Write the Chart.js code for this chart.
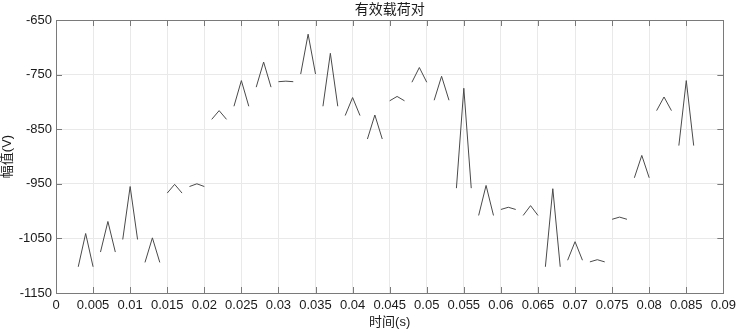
<!DOCTYPE html>
<html>
<head>
<meta charset="utf-8">
<script src="https://cdn.jsdelivr.net/npm/chart.js@4/dist/chart.umd.min.js"></script>
<style>
    html, body { margin: 0; padding: 0; background: #fff; }
    #wrap { width: 741px; height: 332px; }
</style>
</head>
<body>
<div id="wrap"><canvas id="payload"></canvas></div>
<script>
// Vaqt (s) - har uchlik alohida chiziq bo'lagi
const times = [
    0.003, 0.004, 0.005,  0.006, 0.007, 0.008,  0.009, 0.010, 0.011,  0.012, 0.013, 0.014,
    0.015, 0.016, 0.017,  0.018, 0.019, 0.020,  0.021, 0.022, 0.023,  0.024, 0.025, 0.026,
    0.027, 0.028, 0.029,  0.030, 0.031, 0.032,  0.033, 0.034, 0.035,  0.036, 0.037, 0.038,
    0.039, 0.040, 0.041,  0.042, 0.043, 0.044,  0.045, 0.046, 0.047,  0.048, 0.049, 0.050,
    0.051, 0.052, 0.053,  0.054, 0.055, 0.056,  0.057, 0.058, 0.059,  0.060, 0.061, 0.062,
    0.063, 0.064, 0.065,  0.066, 0.067, 0.068,  0.069, 0.070, 0.071,  0.072, 0.073, 0.074,
    0.075, 0.076, 0.077,  0.078, 0.079, 0.080,  0.081, 0.082, 0.083,  0.084, 0.085, 0.086
];

// Amplituda (V)
const amplitude = [
    -1102, -1041, -1102,  -1075, -1019, -1075,  -1052, -955, -1052,  -1094, -1049, -1094,
    -967, -951, -967,     -955, -950, -955,     -832, -816, -832,    -808, -761, -808,
    -773, -727, -773,     -763, -762, -763,     -749, -676, -749,    -808, -711, -808,
    -825, -792, -825,     -868, -824, -868,     -798, -790, -798,    -764, -737, -764,
    -797, -753, -797,     -958, -775, -958,     -1008, -953, -1008,  -997, -993, -997,
    -1008, -990, -1008,   -1102, -959, -1102,   -1090, -1056, -1090, -1093, -1089, -1093,
    -1015, -1011, -1015,  -939, -898, -939,     -816, -791, -816,    -880, -761, -880
];

// O'q belgilari
const xTicks = [0, 0.005, 0.01, 0.015, 0.02, 0.025, 0.03, 0.035, 0.04, 0.045,
                0.05, 0.055, 0.06, 0.065, 0.07, 0.075, 0.08, 0.085, 0.09];
const yTicks = [-1150, -1050, -950, -850, -750, -650];
const chartTitle = '有效载荷对';

const FONT = '"Liberation Sans", Arial, "Noto Sans CJK SC", sans-serif';
const AXIS_COLOR = '#7a7a7a';
const GRID_COLOR = '#e9e9e9';
const TEXT_COLOR = '#1a1a1a';
const LINE_COLOR = '#4a4a4a';

// MATLAB uslubidagi ramka, ichki belgilar va sarlavha
const boxPlugin = {
    id: 'matlabBox',
    afterDraw(chart) {
        const { ctx, chartArea: a, scales } = chart;
        const len = 6;
        ctx.save();
        ctx.strokeStyle = AXIS_COLOR;
        ctx.lineWidth = 1;
        ctx.beginPath();
        scales.x.ticks.forEach(t => {
            const px = Math.round(scales.x.getPixelForValue(t.value)) + 0.5;
            ctx.moveTo(px, a.bottom); ctx.lineTo(px, a.bottom - len);
            ctx.moveTo(px, a.top); ctx.lineTo(px, a.top + len);
        });
        scales.y.ticks.forEach(t => {
            const py = Math.round(scales.y.getPixelForValue(t.value)) + 0.5;
            ctx.moveTo(a.left, py); ctx.lineTo(a.left + len, py);
            ctx.moveTo(a.right, py); ctx.lineTo(a.right - len, py);
        });
        ctx.stroke();
        ctx.strokeRect(Math.round(a.left) + 0.5, Math.round(a.top) + 0.5,
                       Math.round(a.right - a.left), Math.round(a.bottom - a.top));

        // sarlavha chizma maydoni markazida
        ctx.fillStyle = TEXT_COLOR;
        ctx.font = '14px ' + FONT;
        ctx.textAlign = 'center';
        ctx.textBaseline = 'middle';
        ctx.fillText(chartTitle, (a.left + a.right) / 2, a.top - 10);
        ctx.restore();
    }
};

const chartCtx = document.getElementById('payload').getContext('2d');
new Chart(chartCtx, {
    type: 'line',
    data: {
        datasets: [{
            data: times.map((t, i) => ({ x: t, y: amplitude[i] })),
            borderColor: LINE_COLOR,
            borderWidth: 1,
            pointRadius: 0,
            tension: 0,
            fill: false,
            segment: {
                // har uchlikdan keyin uzilish
                borderColor: c => (c.p0DataIndex % 3 === 2 ? 'rgba(0,0,0,0)' : LINE_COLOR)
            }
        }]
    },
    options: {
        responsive: true,
        maintainAspectRatio: false,
        animation: false,
        layout: { padding: { left: 0, right: 17, top: 20, bottom: 0 } },
        plugins: {
            legend: { display: false },
            tooltip: { enabled: false },
            title: { display: false }
        },
        scales: {
            x: {
                type: 'linear',
                min: 0,
                max: 0.09,
                afterBuildTicks: s => { s.ticks = xTicks.map(v => ({ value: v })); },
                afterFit: s => { s.height = 39; },
                grid: { color: GRID_COLOR, drawTicks: false },
                border: { color: AXIS_COLOR },
                ticks: {
                    color: TEXT_COLOR,
                    padding: 5,
                    maxRotation: 0,
                    autoSkip: false,
                    font: { family: FONT, size: 13 },
                    callback: v => String(v)
                },
                title: {
                    display: true,
                    text: '时间(s)',
                    color: TEXT_COLOR,
                    font: { family: FONT, size: 13, lineHeight: 1.2 },
                    padding: { top: 0, bottom: 2.2 }
                }
            },
            y: {
                min: -1150,
                max: -650,
                afterBuildTicks: s => { s.ticks = yTicks.map(v => ({ value: v })); },
                afterFit: s => { s.width = 56; },
                grid: { color: GRID_COLOR, drawTicks: false },
                border: { color: AXIS_COLOR },
                ticks: {
                    color: TEXT_COLOR,
                    padding: 4,
                    autoSkip: false,
                    font: { family: FONT, size: 13 },
                    callback: v => String(v)
                },
                title: {
                    display: true,
                    text: '幅值(V)',
                    color: TEXT_COLOR,
                    font: { family: FONT, size: 13, lineHeight: 1.2 },
                    padding: { top: 0, bottom: 0 }
                }
            }
        }
    },
    plugins: [boxPlugin]
});
</script>
</body>
</html>
